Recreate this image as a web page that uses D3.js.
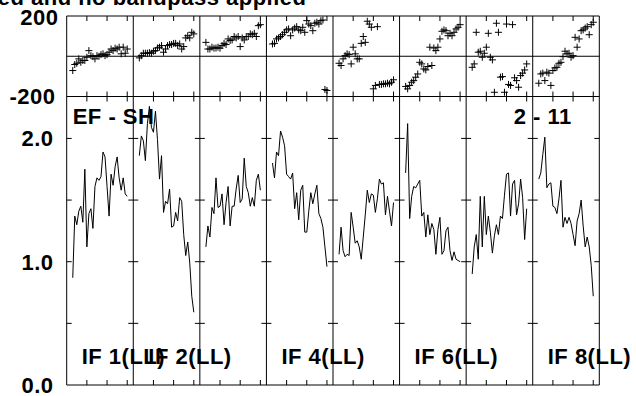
<!DOCTYPE html>
<html>
<head>
<meta charset="utf-8">
<script src="https://cdn.jsdelivr.net/npm/d3@7"></script>
<style>
  body { margin: 0; background: #fff; }
  svg text { font-family: "Liberation Sans", Arial, sans-serif; font-weight: bold; fill: #000; letter-spacing: 0.5px; }
</style>
</head>
<body>
<svg id="chart" width="636" height="396"></svg>
<script>
// channels plotted in every IF
var channels = [3, 4, 5, 6, 7, 8, 9, 10, 11, 12, 13, 14, 15, 16, 17, 18, 19, 20, 21, 22, 23, 24, 25, 26, 27, 28, 29, 30]

// amplitude per IF
var ampIF1 = [0.87, 1.37, 1.30, 1.41, 1.45, 1.32, 1.75, 1.12, 1.39, 1.43, 1.27, 1.61, 1.68, 1.66, 1.69, 1.89, 1.85, 1.61, 1.37, 1.71, 1.62, 1.77, 1.85, 1.68, 1.58, 1.68, 1.55, 1.53]
var ampIF2 = [1.86, 2.02, 1.98, 1.82, 2.12, 2.26, 2.09, 2.05, 2.22, 1.99, 1.67, 1.86, 1.40, 1.49, 1.47, 1.59, 1.28, 1.29, 1.40, 1.33, 1.52, 1.49, 1.22, 1.05, 1.16, 0.99, 0.72, 0.59]
var ampIF3 = [1.12, 1.29, 1.20, 1.44, 1.39, 1.68, 1.44, 1.45, 1.55, 1.30, 1.48, 1.61, 1.29, 1.45, 1.45, 1.59, 1.70, 1.48, 1.51, 1.84, 1.61, 1.56, 1.45, 1.52, 1.45, 1.66, 1.71, 1.58]
var ampIF4 = [1.80, 1.68, 1.89, 1.86, 2.06, 2.01, 1.94, 1.71, 1.69, 1.67, 1.72, 1.43, 1.56, 1.34, 1.58, 1.62, 1.24, 1.24, 1.41, 1.56, 1.47, 1.55, 1.62, 1.39, 1.35, 1.28, 1.12, 0.96]
var ampIF5 = [1.06, 1.28, 1.09, 1.04, 1.06, 1.05, 1.40, 1.28, 1.15, 1.17, 1.12, 1.02, 1.20, 1.38, 1.58, 1.48, 1.55, 1.54, 1.40, 1.51, 1.67, 1.63, 1.64, 1.38, 1.53, 1.41, 1.29, 1.48]
var ampIF6 = [1.72, 2.12, 1.35, 1.53, 1.61, 1.60, 1.63, 1.66, 1.37, 1.40, 1.20, 1.38, 1.22, 1.31, 1.26, 1.06, 1.26, 1.36, 1.06, 1.09, 1.25, 1.28, 1.09, 1.01, 1.08, 1.02, 1.01, 1.00]
var ampIF7 = [0.90, 1.12, 1.22, 1.02, 1.53, 1.12, 1.53, 1.22, 1.37, 1.24, 1.07, 1.21, 1.30, 1.22, 1.37, 1.35, 1.54, 1.71, 1.72, 1.37, 1.63, 1.66, 1.38, 1.47, 1.67, 1.52, 1.18, 1.43]
var ampIF8 = [1.67, 1.72, 1.87, 2.01, 1.60, 1.63, 1.64, 1.45, 1.44, 1.39, 1.51, 1.66, 1.28, 1.36, 1.31, 1.36, 1.31, 1.22, 1.13, 1.33, 1.39, 1.50, 1.29, 1.12, 1.20, 1.12, 0.97, 0.72]

// phase (degrees) per IF
var phIF1 = [-71, -41, -35, -13, -30, -21, -21, -5, 28, 3, -2, -13, 3, 0, 8, 12, 3, 8, 20, 36, 28, 40, 36, 45, 12, 45, 15, 36]
var phIF2 = [-8, 3, 15, 15, 15, 18, 15, 25, 28, 41, 45, 53, 20, 36, 53, 58, 58, 64, 64, 53, 61, 36, 48, 91, 102, 91, 119, 111]
var phIF3 = [69, 36, 36, 45, 40, 41, 45, 40, 53, 64, 58, 86, 78, 81, 98, 91, 98, 48, 91, 81, 98, 98, 111, 107, 114, 98, 152, 157]
var phIF4 = [61, 64, 86, 91, 98, 107, 119, 131, 136, 102, 131, 140, 147, 131, 127, 144, 119, 177, 160, 152, 127, 164, 169, 160, 177, 180, -165, -170]
var phIF5 = [-35, -46, -13, 3, 12, 8, -38, 45, 12, -13, -13, 64, 98, 69, 174, 160, 144, -162, -145, 147, -140, -140, -137, -137, -134, -137, -129, -117]
var phIF6 = [-150, -162, -145, -129, -121, -104, -88, -30, -38, -63, -68, -51, 45, -46, 41, 28, 45, 86, 124, 131, 127, 102, 114, 102, 119, 136, 144, 157]
var phIF7 = [-55, -38, 119, 20, 25, -5, 15, 45, 114, -5, -18, -179, 164, 119, -104, -101, -179, 160, -140, -145, 157, -107, -121, -154, -96, -84, -68, -38]
var phIF8 = [-134, -88, -84, -121, -79, -84, -145, -71, -58, -55, -35, -30, -2, 25, 12, 15, -5, 3, 94, 45, 86, 127, 131, 140, 147, 107, 157, 169]

var ampSeries = [ampIF1, ampIF2, ampIF3, ampIF4, ampIF5, ampIF6, ampIF7, ampIF8]
var phSeries = [phIF1, phIF2, phIF3, phIF4, phIF5, phIF6, phIF7, phIF8]

// labels
var ifLabels = ["IF 1(LL)", "IF 2(LL)", "", "IF 4(LL)", "", "IF 6(LL)", "", "IF 8(LL)"]
var ampTicks = [0.5, 1.0, 1.5, 2.0]
var ampTickLabels = ["0.0", "1.0", "2.0"]
var phaseTickLabels = ["200", "-200"]
var chanTicks = [10, 20, 30]
var titleText = "ed and no bandpass applied"
var baselineLeft = "EF - SH"
var baselineRight = "2 - 11"

// ********************************************************** //

var svg = d3.select("#chart")

var left = 66.7, right = 599.3
var nIF = ampSeries.length
var pw = (right - left) / nIF

var phTop = 16, phBot = 96.5, ampBot = 385

var yAmp = d3.scaleLinear().domain([0, 2.34]).range([ampBot, phBot])
var yPh = d3.scaleLinear().domain([-200, 200]).range([phBot, phTop])

function xChan(i) {
    return d3.scaleLinear().domain([0, 33]).range([left + i * pw, left + (i + 1) * pw])
}

var frame = svg.append("g").attr("stroke", "#000").attr("stroke-width", 1).attr("fill", "none")

// horizontal frame lines
;[phTop, phBot, ampBot].forEach(function(y) {
    frame.append("line").attr("x1", left).attr("x2", right).attr("y1", y).attr("y2", y)
})
// zero phase line
frame.append("line").attr("x1", left).attr("x2", right).attr("y1", yPh(0)).attr("y2", yPh(0))

// vertical separators
for (var i = 0; i <= nIF; i++) {
    var xv = left + i * pw
    frame.append("line").attr("x1", xv).attr("x2", xv).attr("y1", phTop).attr("y2", ampBot)
    ampTicks.forEach(function(t) {
        var x1 = i == 0 ? xv : xv - 5
        var x2 = i == nIF ? xv : xv + 5
        frame.append("line").attr("x1", x1).attr("x2", x2).attr("y1", yAmp(t)).attr("y2", yAmp(t))
    })
}

// channel ticks
for (var i = 0; i < nIF; i++) {
    var x = xChan(i)
    chanTicks.forEach(function(c) {
        var xc = x(c)
        frame.append("line").attr("x1", xc).attr("x2", xc).attr("y1", phTop).attr("y2", phTop + 5)
        frame.append("line").attr("x1", xc).attr("x2", xc).attr("y1", phBot - 5).attr("y2", phBot + 5)
        frame.append("line").attr("x1", xc).attr("x2", xc).attr("y1", ampBot - 5).attr("y2", ampBot)
    })
}

// amplitude lines
var line = d3.line()
for (var i = 0; i < nIF; i++) {
    var x = xChan(i)
    var pts = channels.map(function(c, k) { return [x(c), yAmp(ampSeries[i][k])] })
    svg.append("path")
        .attr("d", line(pts))
        .attr("fill", "none")
        .attr("stroke", "#000")
        .attr("stroke-width", 1)
}

// phase crosses
for (var i = 0; i < nIF; i++) {
    var x = xChan(i)
    svg.append("g").selectAll("path")
        .data(channels.map(function(c, k) { return { c: c, p: phSeries[i][k] } }))
        .enter().append("path")
        .attr("transform", function(d) { return "translate(" + x(d.c) + "," + yPh(d.p) + ")" })
        .attr("d", "M-3.5,0H3.5M0,-3.5V3.5")
        .attr("stroke", "#000")
        .attr("stroke-width", 1)
        .attr("fill", "none")
}

// axis labels
var fs = 22
svg.append("text").attr("x", 58.5).attr("y", phTop + 9).attr("text-anchor", "end").attr("font-size", fs).text(phaseTickLabels[0])
svg.append("text").attr("x", 55.5).attr("y", phBot + 7.5).attr("text-anchor", "end").attr("font-size", fs).text(phaseTickLabels[1])
ampTickLabels.forEach(function(l) {
    svg.append("text").attr("x", 53.5).attr("y", yAmp(+l) + 8).attr("text-anchor", "end").attr("font-size", fs).text(l)
})

// IF labels
ifLabels.forEach(function(l, i) {
    if (l == "") return
    svg.append("text").attr("x", left + i * pw + 15).attr("y", 363.5).attr("font-size", fs).text(l)
})

svg.append("text").attr("x", 72.7).attr("y", 123.5).attr("font-size", fs).text(baselineLeft)
svg.append("text").attr("x", 571.7).attr("y", 123.5).attr("text-anchor", "end").attr("font-size", fs).text(baselineRight)

svg.append("text").attr("x", 306.5).attr("y", 4.5).attr("text-anchor", "end").attr("font-size", fs).text(titleText)
</script>
</body>
</html>
